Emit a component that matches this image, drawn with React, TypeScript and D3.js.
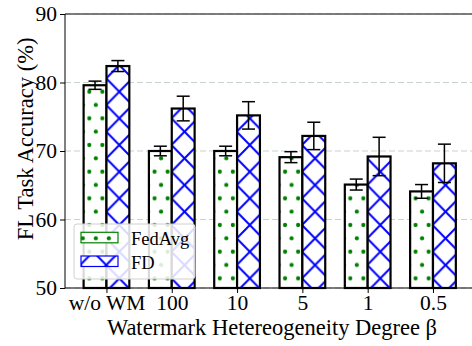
import React, { useEffect, useRef } from 'react';
import * as d3 from 'd3';

const categories = ['w/o WM', '100', '10', '5', '1', '0.5'];
const fedAvgValues = [79.6, 70.0, 70.0, 69.1, 65.1, 64.1];
const fedAvgErrors = [0.6, 0.7, 0.7, 0.8, 0.8, 1.0];
const fdValues = [82.4, 76.2, 75.2, 72.2, 69.2, 68.2];
const fdErrors = [0.8, 1.8, 2.0, 2.0, 2.8, 2.8];
const yTicks = [50, 60, 70, 80, 90];

const App = () => {
  const svgRef = useRef<SVGSVGElement>(null);

  useEffect(() => {
    const width = 472;
    const height = 346;
    const left = 65;
    const right = 480;
    const top = 14;
    const bottom = 288;
    const barW = 0.35;
    const font = 'Liberation Serif, DejaVu Serif, serif';

    const svg = d3.select(svgRef.current)
      .attr('width', width)
      .attr('height', height)
      .style('font-family', font);
    svg.selectAll('*').remove();

    // motifs (fixes dans le repère de la figure, comme matplotlib)
    const defs = svg.append('defs');
    const dots = defs.append('pattern')
      .attr('id', 'dots')
      .attr('patternUnits', 'userSpaceOnUse')
      .attr('x', 89.3).attr('y', 91.7)
      .attr('width', 13.05).attr('height', 26.67);
    dots.append('rect').attr('width', 13.05).attr('height', 26.67).attr('fill', 'white');
    [[0, 0], [6.525, 13.33], [13.05, 0], [0, 26.67], [13.05, 26.67]].forEach(([cx, cy]) => {
      dots.append('circle').attr('cx', cx).attr('cy', cy).attr('r', 2.1).attr('fill', '#008000');
    });

    const cross = defs.append('pattern')
      .attr('id', 'cross')
      .attr('patternUnits', 'userSpaceOnUse')
      .attr('x', 119.3).attr('y', 91.7)
      .attr('width', 26.1).attr('height', 26.67);
    cross.append('rect').attr('width', 26.1).attr('height', 26.67).attr('fill', 'white');
    cross.append('path')
      .attr('d', 'M0,0L26.1,26.67M0,26.67L26.1,0')
      .attr('stroke', '#0000ff').attr('stroke-width', 2);

    const x = d3.scaleLinear().domain([-0.635, 5.72]).range([left, right]);
    const y = d3.scaleLinear().domain([50, 90]).range([bottom, top]);

    // grille
    svg.append('g')
      .selectAll('line')
      .data(yTicks)
      .enter()
      .append('line')
      .attr('x1', left).attr('x2', right)
      .attr('y1', d => y(d)).attr('y2', d => y(d))
      .attr('stroke', '#c9d3cf').attr('stroke-width', 1.2)
      .attr('stroke-dasharray', '6,3');

    const series = [
      { values: fedAvgValues, errors: fedAvgErrors, offset: -barW, fill: 'url(#dots)' },
      { values: fdValues, errors: fdErrors, offset: 0, fill: 'url(#cross)' },
    ];

    series.forEach(s => {
      const g = svg.append('g');
      g.selectAll('rect')
        .data(s.values)
        .enter()
        .append('rect')
        .attr('x', (d, i) => x(i + s.offset))
        .attr('y', d => y(d))
        .attr('width', x(barW) - x(0))
        .attr('height', d => bottom - y(d))
        .attr('fill', s.fill)
        .attr('stroke', 'black')
        .attr('stroke-width', 2.2);
    });

    // barres d'erreur
    series.forEach(s => {
      const g = svg.append('g').attr('stroke', 'black').attr('stroke-width', 1.5);
      s.values.forEach((v, i) => {
        const cx = x(i + s.offset + barW / 2);
        const e = s.errors[i];
        g.append('line').attr('x1', cx).attr('x2', cx).attr('y1', y(v - e)).attr('y2', y(v + e));
        [v - e, v + e].forEach(t => {
          g.append('line').attr('x1', cx - 6.5).attr('x2', cx + 6.5).attr('y1', y(t)).attr('y2', y(t));
        });
      });
    });

    // axes
    const yAxis = d3.axisLeft(y).tickValues(yTicks).tickSize(5).tickPadding(3);
    const gy = svg.append('g').attr('transform', `translate(${left},0)`).call(yAxis)
      .attr('font-family', null);
    gy.select('.domain').remove();
    gy.selectAll('text').style('font-family', font).attr('font-size', 21.5).attr('fill', 'black');

    const xAxis = d3.axisBottom(x)
      .tickValues(d3.range(categories.length))
      .tickFormat(i => categories[i as number])
      .tickSize(5).tickPadding(2);
    const gx = svg.append('g').attr('transform', `translate(0,${bottom})`).call(xAxis)
      .attr('font-family', null);
    gx.select('.domain').remove();
    gx.selectAll('text').style('font-family', font).attr('font-size', 21.5).attr('fill', 'black');

    svg.append('line').attr('x1', left).attr('x2', right).attr('y1', top).attr('y2', top)
      .attr('stroke', '#555').attr('stroke-width', 1.6);
    svg.append('line').attr('x1', left).attr('x2', right).attr('y1', bottom).attr('y2', bottom)
      .attr('stroke', 'black').attr('stroke-width', 1);
    svg.append('line').attr('x1', left).attr('x2', left).attr('y1', top).attr('y2', bottom)
      .attr('stroke', 'black').attr('stroke-width', 1);

    // titres des axes
    svg.append('text')
      .attr('x', 272).attr('y', 335)
      .attr('text-anchor', 'middle')
      .style('font-family', font).attr('font-size', 22.5)
      .text('Watermark Hetereogeneity Degree β');
    svg.append('text')
      .attr('transform', `translate(33,139) rotate(-90)`)
      .attr('text-anchor', 'middle')
      .style('font-family', font).attr('font-size', 22.5)
      .text('FL Task Accuracy (%)');

    // légende
    const lg = svg.append('g');
    lg.append('rect')
      .attr('x', 74).attr('y', 224).attr('width', 121).attr('height', 55)
      .attr('rx', 3).attr('fill', 'white').attr('fill-opacity', 0.85)
      .attr('stroke', '#d0d0d0').attr('stroke-width', 1);
    const items = [
      { label: 'FedAvg', fill: 'url(#dots)', stroke: '#008000', y0: 232.3 },
      { label: 'FD', fill: 'url(#cross)', stroke: '#0000ff', y0: 256 },
    ];
    items.forEach(it => {
      lg.append('rect')
        .attr('x', 81).attr('y', it.y0).attr('width', 37).attr('height', 10.5)
        .attr('fill', it.fill).attr('stroke', it.stroke).attr('stroke-width', 1.2);
      lg.append('text')
        .attr('x', 131).attr('y', it.y0 + 12.5)
        .style('font-family', font).attr('font-size', 18.5)
        .text(it.label);
    });
  }, []);

  return <svg ref={svgRef} style={{ position: 'absolute', left: 0, top: 0 }}></svg>;
};

export default App;
